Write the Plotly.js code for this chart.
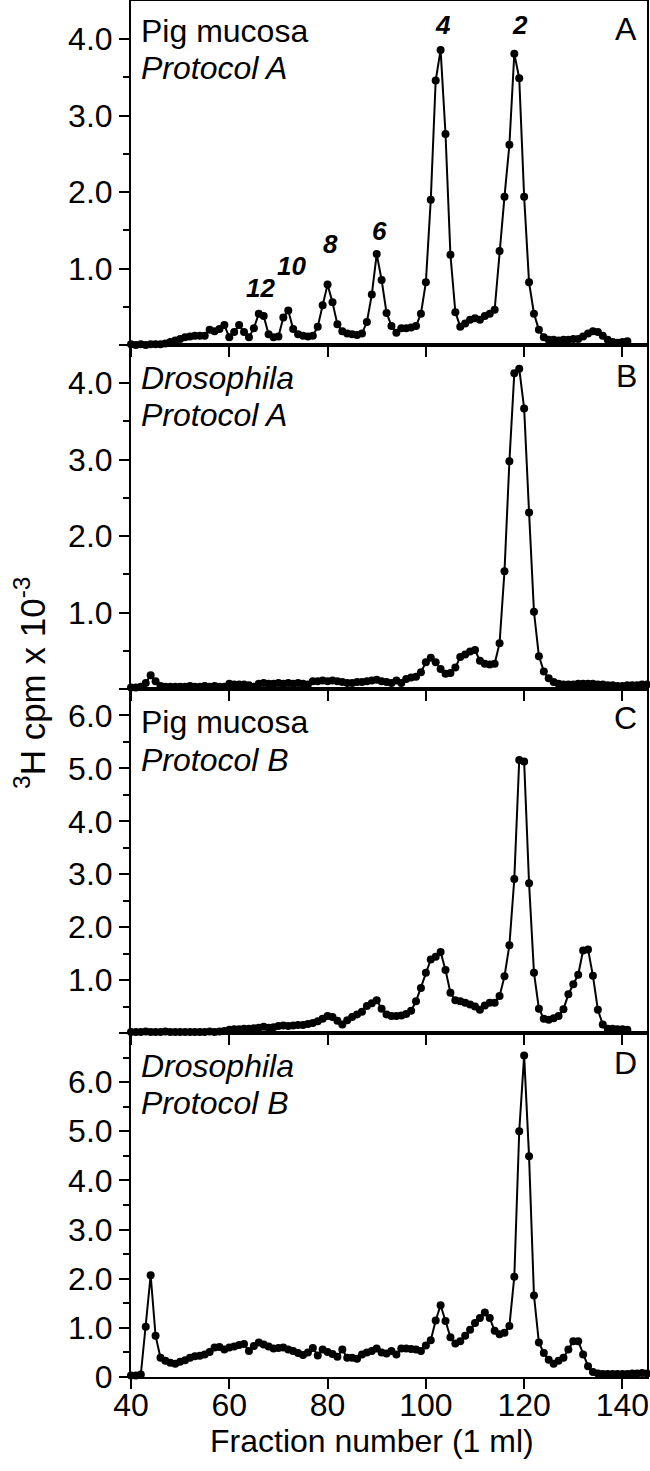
<!DOCTYPE html>
<html>
<head>
<meta charset="utf-8">
<script src="https://cdn.plot.ly/plotly-3.0.1.min.js"></script>
<style>
  html, body { margin: 0; padding: 0; background: #ffffff; }
  #chart { width: 650px; height: 1471px; }
</style>
</head>
<body>
<div id="chart"></div>
<script>
// ---------------- DATA ----------------
// 3H cpm x 10^-3 per 1-ml fraction; each series starts at the given fraction number
const firstFractionA = 40;
const cpmA = [0.01,0.00,0.01,0.00,0.01,0.01,0.01,0.02,0.04,0.06,
              0.08,0.10,0.11,0.12,0.12,0.12,0.20,0.18,0.21,0.26,
              0.10,0.17,0.26,0.17,0.10,0.22,0.41,0.38,0.14,0.10,
              0.11,0.36,0.45,0.21,0.14,0.12,0.11,0.12,0.24,0.52,
              0.79,0.56,0.27,0.18,0.15,0.14,0.13,0.15,0.30,0.66,
              1.19,0.85,0.42,0.25,0.16,0.22,0.22,0.23,0.25,0.41,
              0.82,1.90,3.46,3.86,2.76,1.18,0.43,0.24,0.28,0.33,
              0.35,0.33,0.38,0.41,0.46,1.23,1.94,2.62,3.81,3.49,
              1.94,0.82,0.41,0.20,0.10,0.07,0.07,0.06,0.07,0.07,
              0.08,0.08,0.11,0.15,0.18,0.17,0.12,0.07,0.04,0.03,
              0.04,0.05];

const firstFractionB = 40;
const cpmB = [0.02,0.02,0.03,0.08,0.18,0.10,0.04,0.03,0.03,0.03,
              0.03,0.03,0.04,0.03,0.03,0.04,0.03,0.04,0.03,0.03,
              0.07,0.06,0.06,0.06,0.05,0.03,0.07,0.08,0.07,0.07,
              0.08,0.07,0.08,0.07,0.08,0.07,0.06,0.10,0.10,0.11,
              0.10,0.11,0.10,0.09,0.08,0.08,0.09,0.09,0.10,0.11,
              0.12,0.10,0.09,0.08,0.11,0.08,0.13,0.15,0.16,0.22,
              0.35,0.41,0.35,0.26,0.20,0.21,0.28,0.42,0.45,0.49,
              0.51,0.37,0.33,0.32,0.33,0.60,1.54,2.98,4.13,4.19,
              3.67,2.31,1.01,0.43,0.23,0.14,0.09,0.07,0.06,0.06,
              0.06,0.07,0.07,0.07,0.07,0.06,0.06,0.05,0.05,0.04,
              0.04,0.05,0.05,0.05,0.06,0.06];

const firstFractionC = 40;
const cpmC = [0.02,0.02,0.02,0.03,0.02,0.02,0.02,0.03,0.02,0.02,
              0.02,0.02,0.02,0.02,0.02,0.02,0.03,0.02,0.03,0.04,
              0.06,0.07,0.07,0.08,0.08,0.09,0.10,0.12,0.10,0.11,
              0.13,0.14,0.13,0.14,0.15,0.15,0.17,0.19,0.22,0.27,
              0.32,0.30,0.23,0.16,0.24,0.30,0.35,0.40,0.51,0.56,
              0.62,0.46,0.35,0.32,0.32,0.33,0.36,0.42,0.60,0.85,
              1.14,1.39,1.44,1.53,1.19,0.76,0.62,0.60,0.57,0.54,
              0.50,0.44,0.52,0.57,0.57,0.70,1.07,1.66,2.91,5.16,
              5.13,2.83,1.14,0.46,0.27,0.25,0.28,0.32,0.45,0.73,
              0.92,1.10,1.56,1.58,1.08,0.44,0.16,0.08,0.08,0.07,
              0.07,0.06];

const firstFractionD = 40;
const cpmD = [0.03,0.03,0.05,1.02,2.07,0.84,0.39,0.33,0.29,0.27,
              0.31,0.34,0.39,0.42,0.43,0.46,0.51,0.60,0.61,0.56,
              0.60,0.62,0.65,0.67,0.53,0.63,0.70,0.66,0.62,0.58,
              0.59,0.60,0.56,0.53,0.49,0.45,0.50,0.59,0.44,0.56,
              0.51,0.47,0.41,0.56,0.39,0.39,0.37,0.46,0.50,0.53,
              0.58,0.50,0.48,0.53,0.46,0.58,0.58,0.57,0.56,0.53,
              0.64,0.75,1.15,1.46,1.14,0.81,0.68,0.73,0.84,0.96,
              1.10,1.20,1.31,1.20,0.94,0.87,0.90,1.04,2.04,5.00,
              6.54,4.49,1.66,0.70,0.49,0.35,0.27,0.33,0.39,0.56,
              0.73,0.73,0.46,0.22,0.10,0.07,0.06,0.06,0.06,0.06,
              0.06,0.06,0.07,0.07,0.08,0.07];

// Oligomer labels over the peaks of panel A
const peakLabels  = ['12', '10', '8', '6', '4', '2'];
const peakLabelX  = [66.3, 72.6, 80.6, 90.6, 103.5, 119.2];
const peakLabelY  = [0.74, 1.04, 1.32, 1.49, 4.19, 4.19];

// Panel texts
const panelLetters = ['A', 'B', 'C', 'D'];
const sampleNames  = ['Pig mucosa', '<i>Drosophila</i>', 'Pig mucosa', '<i>Drosophila</i>'];
const protocolNames = ['<i>Protocol A</i>', '<i>Protocol A</i>', '<i>Protocol B</i>', '<i>Protocol B</i>'];

// Axis ticks
const xTickVals = [40, 60, 80, 100, 120, 140];
const xTickText = ['40', '60', '80', '100', '120', '140'];
const yTickValsAB = [0, 1, 2, 3, 4];
const yTickTextAB = ['', '1.0', '2.0', '3.0', '4.0'];
const yMinorAB = [0.5, 1.5, 2.5, 3.5];
const yTickValsC = [0, 1, 2, 3, 4, 5, 6];
const yTickTextC = ['', '1.0', '2.0', '3.0', '4.0', '5.0', '6.0'];
const yMinorC = [0.5, 1.5, 2.5, 3.5, 4.5, 5.5];
const yTickValsD = [0, 1, 2, 3, 4, 5, 6];
const yTickTextD = ['0', '1.0', '2.0', '3.0', '4.0', '5.0', '6.0'];
const yMinorD = [0.5, 1.5, 2.5, 3.5, 4.5, 5.5, 6.5];

const xTitle = 'Fraction number (1 ml)';
const yTitle = '<sup>3</sup>H cpm x 10<sup>-3</sup>';

// ---------------- CHART ----------------
const W = 650, H = 1471;
const M = {l: 131, r: 3, t: 1, b: 94};
const plotW = W - M.l - M.r, plotH = H - M.t - M.b;
const px = x => (x - M.l) / plotW;           // page px -> paper x
const py = y => (H - M.b - y) / plotH;       // page px -> paper y

const FONT = 'Liberation Sans, Arial, Helvetica, sans-serif';
const BIG = 32;

function fractions(start, vals) { return vals.map((_, i) => start + i); }

const series = [
  {start: firstFractionA, vals: cpmA},
  {start: firstFractionB, vals: cpmB},
  {start: firstFractionC, vals: cpmC},
  {start: firstFractionD, vals: cpmD}
];

const traces = series.map((s, i) => ({
  type: 'scatter',
  mode: 'lines+markers',
  x: fractions(s.start, s.vals),
  y: s.vals,
  xaxis: i === 0 ? 'x' : 'x' + (i + 1),
  yaxis: i === 0 ? 'y' : 'y' + (i + 1),
  line: {color: '#000', width: 2},
  marker: {color: '#000', size: 8},
  cliponaxis: false,
  hoverinfo: 'skip',
  showlegend: false
}));

const domains = [[0.75, 1], [0.5, 0.75], [0.25, 0.5], [0, 0.25]];
const yRanges = [[0, 4.5], [0, 4.5], [0, 6.5], [0, 7]];
const yTV = [yTickValsAB, yTickValsAB, yTickValsC, yTickValsD];
const yTT = [yTickTextAB, yTickTextAB, yTickTextC, yTickTextD];
const yMin = [yMinorAB, yMinorAB, yMinorC, yMinorD];

const layout = {
  width: W, height: H,
  margin: M,
  paper_bgcolor: '#fff', plot_bgcolor: '#fff',
  font: {family: FONT, color: '#000', size: BIG},
  showlegend: false,
  annotations: []
};

for (let i = 0; i < 4; i++) {
  const xk = i === 0 ? 'xaxis' : 'xaxis' + (i + 1);
  const yk = i === 0 ? 'yaxis' : 'yaxis' + (i + 1);
  const yid = i === 0 ? 'y' : 'y' + (i + 1);
  const xid = i === 0 ? 'x' : 'x' + (i + 1);
  layout[xk] = {
    domain: [0, 1], anchor: yid, range: [40, 145],
    tickmode: 'array', tickvals: xTickVals, ticktext: xTickText,
    showticklabels: i === 3,
    ticks: 'outside', ticklen: 10, tickwidth: 2, tickcolor: '#000',
    ticklabelstandoff: -11,
    tickfont: {family: FONT, size: BIG, color: '#000'},
    showline: true, linecolor: '#000', linewidth: 2, mirror: true,
    showgrid: false, zeroline: false, fixedrange: true
  };
  layout[yk] = {
    domain: domains[i], anchor: xid, range: yRanges[i],
    tickmode: 'array', tickvals: yTV[i], ticktext: yTT[i],
    ticks: 'outside', ticklen: 10, tickwidth: 2, tickcolor: '#000',
    minor: {tickmode: 'array', tickvals: yMin[i], ticks: 'outside', ticklen: 6, tickwidth: 2, tickcolor: '#000', showgrid: false},
    tickfont: {family: FONT, size: BIG, color: '#000'},
    showline: true, linecolor: '#000', linewidth: 2, mirror: true,
    showgrid: false, zeroline: false, fixedrange: true
  };
}

// panel texts
const panelTop = [1, 345, 689, 1033];
const nameOffset = [30, 33, 33, 33];
const protoOffset = [67, 70, 71, 70];
const letterOffset = [28, 31, 29, 30];
for (let i = 0; i < 4; i++) {
  layout.annotations.push({
    xref: 'paper', yref: 'paper', x: px(139), y: py(panelTop[i] + nameOffset[i]),
    xanchor: 'left', yanchor: 'middle', showarrow: false,
    text: sampleNames[i], font: {family: FONT, size: BIG, color: '#000'}
  });
  layout.annotations.push({
    xref: 'paper', yref: 'paper', x: px(139), y: py(panelTop[i] + protoOffset[i]),
    xanchor: 'left', yanchor: 'middle', showarrow: false,
    text: protocolNames[i], font: {family: FONT, size: BIG, color: '#000'}
  });
  layout.annotations.push({
    xref: 'paper', yref: 'paper', x: px(639), y: py(panelTop[i] + letterOffset[i]),
    xanchor: 'right', yanchor: 'middle', showarrow: false,
    text: panelLetters[i], font: {family: FONT, size: BIG, color: '#000'}
  });
}

// peak labels in panel A
peakLabels.forEach((t, k) => {
  layout.annotations.push({
    xref: 'x', yref: 'y', x: peakLabelX[k], y: peakLabelY[k],
    xanchor: 'center', yanchor: 'middle', showarrow: false,
    text: '<b><i>' + t + '</i></b>', font: {family: FONT, size: 26, color: '#000'}
  });
});

// axis titles
layout.annotations.push({
  xref: 'paper', yref: 'paper', x: px(372), y: py(1441),
  xanchor: 'center', yanchor: 'middle', showarrow: false,
  text: xTitle, font: {family: FONT, size: BIG, color: '#000'}
});
layout.annotations.push({
  xref: 'paper', yref: 'paper', x: px(30), y: py(683),
  xanchor: 'center', yanchor: 'middle', showarrow: false, textangle: -90,
  text: yTitle, font: {family: FONT, size: 35, color: '#000'}
});

Plotly.newPlot('chart', traces, layout, {displayModeBar: false, staticPlot: true});
</script>
</body>
</html>
